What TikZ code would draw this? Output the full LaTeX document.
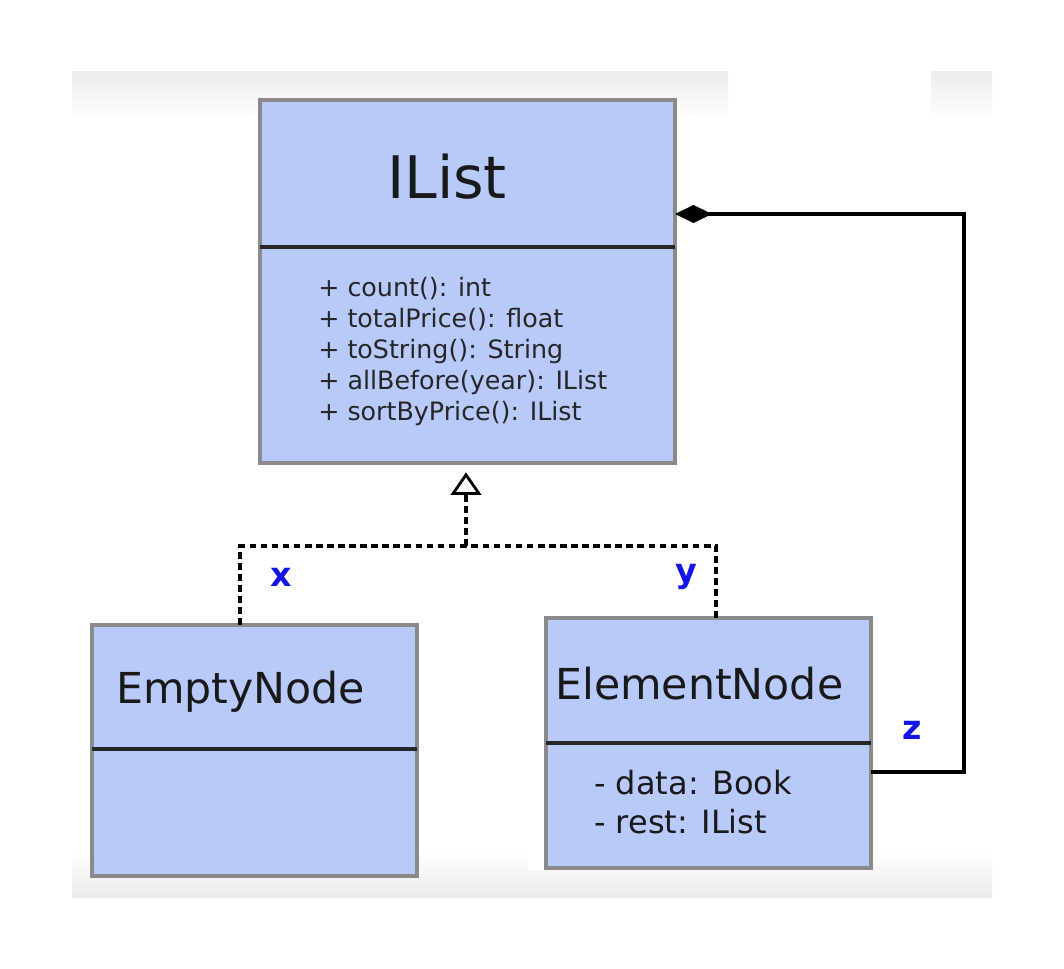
\documentclass[tikz,border=0pt]{standalone}
\usepackage{fontspec}
\setmainfont{DejaVu Sans}
\usetikzlibrary{arrows.meta}
\definecolor{boxfill}{HTML}{B8CAFA}
\definecolor{boxline}{HTML}{8A8A8A}
\definecolor{lblblue}{HTML}{1414E6}
\begin{document}
\begin{tikzpicture}[x=0.75pt,y=-0.75pt,
  umlbox/.style={draw=boxline, fill=boxfill, line width=2.6pt, inner sep=0pt, outer sep=0pt, anchor=north west},
  divider/.style={line width=2.3pt, draw=black!85},
  ttl/.style={anchor=base, inner sep=0pt},
  member/.style={anchor=base west, inner sep=0pt, font=\fontsize{19}{23}\selectfont, text=black!85},
  attr/.style={anchor=base west, inner sep=0pt, font=\fontsize{24}{29}\selectfont, text=black!90},
  lbl/.style={anchor=base, inner sep=0pt, text=lblblue, font=\bfseries\fontsize{25}{30}\selectfont},
  conn/.style={line width=2.4pt, draw=black},
  dashline/.style={line width=2.4pt, draw=black, dash pattern=on 5pt off 3.3pt}
]
\useasboundingbox (0,0) rectangle (1064,969);
\fill[white] (0,0) rectangle (1064,969);
% background bands
\shade[top color=gray!14, bottom color=white] (72,72) rectangle (728,120);
\shade[top color=gray!14, bottom color=white] (931,72) rectangle (992,120);
\shade[top color=white, bottom color=gray!15] (72,850) rectangle (992,897);
\fill[white] (528,850) rectangle (546,870);

% boxes
\node[umlbox, minimum width=311.25pt, minimum height=272.25pt] (IList) at (260,100) {};
\node[umlbox, minimum width=243.75pt, minimum height=188.25pt] (EmptyNode) at (92,625) {};
\node[umlbox, minimum width=243.75pt, minimum height=187.5pt] (ElementNode) at (546,618) {};

% dividers
\draw[divider] (IList.west |- 0,247) -- (IList.east |- 0,247);
\draw[divider] (EmptyNode.west |- 0,749) -- (EmptyNode.east |- 0,749);
\draw[divider] (ElementNode.west |- 0,743) -- (ElementNode.east |- 0,743);

% titles
\node[ttl, font=\fontsize{44}{53}\selectfont, text=black!90] (ttlIList) at (447,199) {IList};
\node[anchor=base west, inner sep=0pt, font=\fontsize{32}{38}\selectfont, text=black!90] (ttlEmpty) at (116,703) {EmptyNode};
\node[anchor=base west, inner sep=0pt, font=\fontsize{32}{38}\selectfont, text=black!90] (ttlElem) at (555,699) {ElementNode};

% members
\node[member] (m1) at (318,297) {+ count(): int};
\node[member] (m2) at (318,328) {+ totalPrice(): float};
\node[member] (m3) at (318,359) {+ toString(): String};
\node[member] (m4) at (318,390) {+ allBefore(year): IList};
\node[member] (m5) at (318,421) {+ sortByPrice(): IList};
\node[attr] (a1) at (594,794) {- data: Book};
\node[attr] (a2) at (594,833) {- rest: IList};

% labels
\node[lbl] (lx) at (281,586) {x};
\node[lbl] (ly) at (686,582) {y};
\node[lbl] (lz) at (912,739) {z};

% realization connectors
\coordinate (j) at (466,546);
\coordinate (xa) at (240,0);
\coordinate (xb) at (716,0);
\draw[dashline] (xa |- EmptyNode.north) -- (xa |- j) -- (j);
\draw[dashline] (xb |- ElementNode.north) -- (xb |- j) -- (j);
\draw[dashline, shorten >=7pt, -{Triangle[open, length=17pt, width=23pt, line width=2.1pt]}] (j) -- (j |- IList.south);

% composition connector
\coordinate (ct) at (964,214);
\coordinate (cb) at (964,772);
\draw[conn, {Diamond[length=27.75pt, width=13.5pt]}-] (IList.east |- ct) -- (ct) -- (cb) -- (ElementNode.east |- cb);
\end{tikzpicture}
\end{document}
